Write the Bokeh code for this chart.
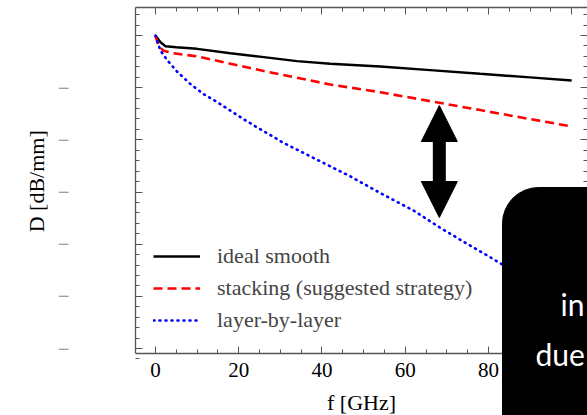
from bokeh.plotting import figure
from bokeh.models import (Range1d, FixedTicker, LinearAxis, Legend, LegendItem,
                          Arrow, NormalHead, BoxAnnotation, Label)
from bokeh.embed import file_html
from bokeh.resources import INLINE

# ---------------- data ----------------
freq_ideal = [0, 1.2, 2.4, 5, 10, 18, 26, 34, 42, 54, 66, 78, 90, 100]
D_ideal = [0, -0.13, -0.205, -0.225, -0.255, -0.34, -0.415, -0.49, -0.54,
           -0.594, -0.663, -0.734, -0.803, -0.863]

freq_stack = [0, 0.7, 1.9, 4.3, 10, 18, 26, 34, 42, 54, 66, 78, 90, 100]
D_stack = [0, -0.19, -0.29, -0.34, -0.40, -0.54, -0.68, -0.81, -0.94,
           -1.087, -1.258, -1.429, -1.602, -1.744]

freq_layer = [0, 0.5, 1.2, 2.9, 5.3, 8.4, 11.5, 14.9, 18, 21.1, 24, 30.8,
              38.8, 46.8, 54.7, 61.9, 68.3, 74.8, 83.2, 90, 100]
D_layer = [0, -0.13, -0.29, -0.48, -0.70, -0.93, -1.12, -1.28, -1.44, -1.60,
           -1.74, -2.06, -2.38, -2.70, -3.05, -3.35, -3.68, -3.99, -4.38,
           -4.70, -5.15]

x_ticks = [0, 20, 40, 60, 80, 100]
x_minor = [-5 + 5 * i for i in range(23)]
y_ticks = [0, -1, -2, -3, -4, -5, -6]
y_minor = [round(0.4 - 0.2 * i, 1) for i in range(34)]
y_tick_labels = {0: "", -1: "\u2212", -2: "\u2212", -3: "\u2212",
                 -4: "\u2212", -5: "\u2212", -6: "\u2212"}

legend_labels = ["ideal smooth", "stacking (suggested strategy)", "layer-by-layer"]

# ---------------- figure ----------------
SERIF = "Liberation Serif"
AX = "#555555"
Y_LO, Y_HI = -6.095, 0.537      # extent of the drawn axes box
Y_CANVAS_LO = -7.284            # frame continues down to the canvas bottom

p = figure(width=587, height=415, output_backend="svg", toolbar_location=None,
           x_range=Range1d(-4.80, 103.8), y_range=Range1d(Y_CANVAS_LO, Y_HI),
           min_border_left=135, min_border_right=0, min_border_top=7,
           min_border_bottom=0)
p.grid.visible = False
p.outline_line_color = None
p.background_fill_color = "white"


def style_axis(ax, ticks, minor, labels=True):
    ax.ticker = FixedTicker(ticks=ticks, minor_ticks=minor)
    ax.axis_line_color = AX
    ax.axis_line_width = 1.3
    ax.major_tick_line_color = AX
    ax.minor_tick_line_color = AX
    ax.major_tick_in = 7
    ax.major_tick_out = 0
    ax.minor_tick_in = 4
    ax.minor_tick_out = 0
    if not labels:
        ax.major_label_text_font_size = "0px"
        ax.major_label_standoff = 0


# bottom (drawn at the bottom of the axes box)
xa = p.xaxis[0]
style_axis(xa, x_ticks, x_minor)
xa.fixed_location = Y_LO
xa.major_label_text_font = SERIF
xa.major_label_text_font_size = "21px"
xa.major_label_text_color = "black"
xa.major_label_standoff = 10
xa.axis_label = "f [GHz]"
xa.axis_label_text_font = SERIF
xa.axis_label_text_font_size = "22px"
xa.axis_label_text_font_style = "normal"
xa.axis_label_text_color = "black"
xa.axis_label_standoff = 9

# left
ya = p.yaxis[0]
style_axis(ya, y_ticks, y_minor)
ya.bounds = (Y_LO, Y_HI)
ya.major_label_overrides = y_tick_labels
ya.major_label_text_font = SERIF
ya.major_label_text_font_size = "21px"
ya.major_label_text_color = "#8a8a8a"
ya.major_label_standoff = 66
# leading no-break spaces centre the label on the axes box, not the frame
ya.axis_label = "\u00a0" * 11 + "D [dB/mm]"
ya.axis_label_text_font = SERIF
ya.axis_label_text_font_size = "22px"
ya.axis_label_text_font_style = "normal"
ya.axis_label_text_color = "black"
ya.axis_label_standoff = 6

# top and right (ticks only)
top = LinearAxis()
style_axis(top, x_ticks, x_minor, labels=False)
p.add_layout(top, "above")
right = LinearAxis()
style_axis(right, y_ticks, y_minor, labels=False)
right.bounds = (Y_LO, Y_HI)
right.axis_line_color = None
p.add_layout(right, "right")

# ---------------- curves ----------------
r1 = p.line(freq_ideal, D_ideal, line_color="black", line_width=2.4)
r2 = p.line(freq_stack, D_stack, line_color="#ff0000", line_width=2.6,
            line_dash="9 5")
r3 = p.line(freq_layer, D_layer, line_color="#0000ff", line_width=2.6,
            line_dash="1 5", line_cap="round")

legend = Legend(items=[LegendItem(label=legend_labels[0], renderers=[r1]),
                       LegendItem(label=legend_labels[1], renderers=[r2]),
                       LegendItem(label=legend_labels[2], renderers=[r3])],
                location=(18, 82), padding=0, margin=0, spacing=6,
                glyph_width=47, glyph_height=20, label_height=20,
                label_standoff=17, label_text_font=SERIF,
                label_text_font_size="22px", border_line_color=None,
                background_fill_alpha=0)
p.add_layout(legend, "center")

# ---------------- annotations ----------------
arrow = Arrow(start=NormalHead(size=36, fill_color="black", line_color="black"),
              end=NormalHead(size=36, fill_color="black", line_color="black"),
              x_start=68.2, y_start=-3.489, x_end=68.2, y_end=-1.342,
              line_width=13, line_color="black")
p.add_layout(arrow)

box = BoxAnnotation(left=502, right=640, top=187, bottom=470,
                    left_units="canvas", right_units="canvas",
                    top_units="canvas", bottom_units="canvas",
                    fill_color="black", fill_alpha=1.0, line_color="black",
                    line_alpha=1.0, border_radius=36)
p.add_layout(box)

for txt, xx, yy in [("in", 560, 303), ("due", 535, 353)]:
    p.add_layout(Label(x=xx, y=yy, x_units="canvas", y_units="canvas",
                       text=txt, text_color="white",
                       text_font="Lato", text_font_size="30px",
                       text_baseline="alphabetic"))

open("out.html", "w").write(file_html(p, INLINE))
